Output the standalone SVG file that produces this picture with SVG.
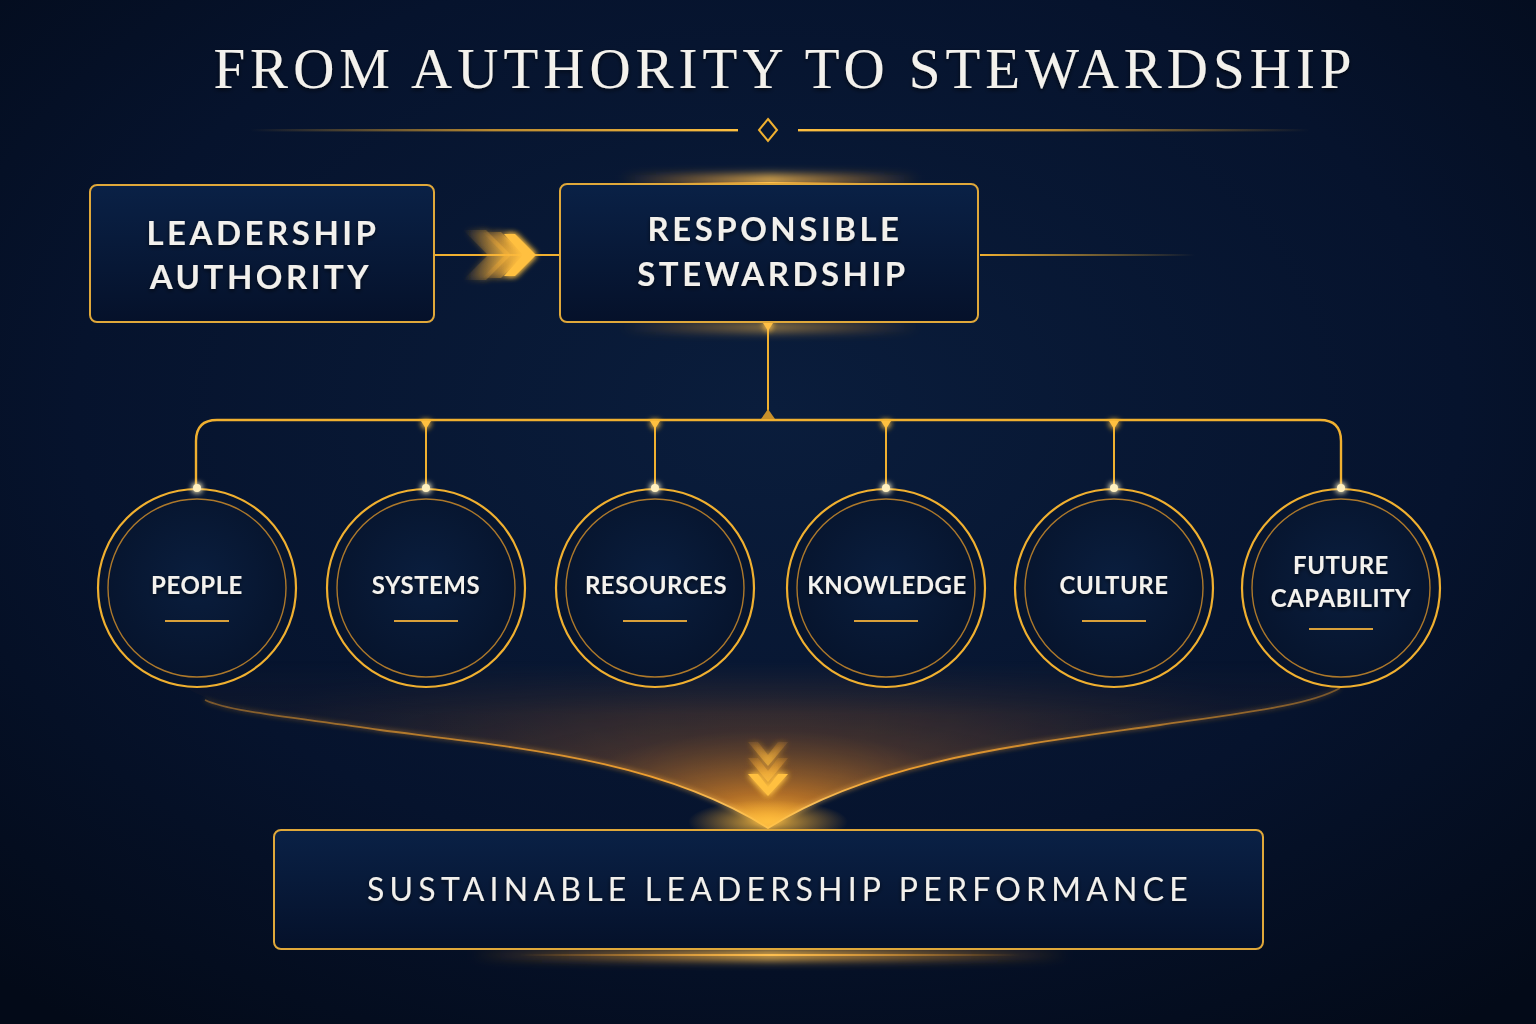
<svg xmlns="http://www.w3.org/2000/svg" width="1536" height="1024" viewBox="0 0 1536 1024">
<defs>
<radialGradient id="bg" cx="0.5" cy="0.4" r="0.75">
<stop offset="0" stop-color="#0a1d3c"/>
<stop offset="0.6" stop-color="#06132d"/>
<stop offset="1" stop-color="#030a18"/>
</radialGradient>
<linearGradient id="boxFill" x1="0" y1="0" x2="0" y2="1">
<stop offset="0" stop-color="#0a2146"/>
<stop offset="1" stop-color="#05112a"/>
</linearGradient>
<radialGradient id="circFill" cx="0.5" cy="0.45" r="0.55">
<stop offset="0" stop-color="#0a1e3e"/>
<stop offset="1" stop-color="#06132b"/>
</radialGradient>
<linearGradient id="divL" x1="0" y1="0" x2="1" y2="0">
<stop offset="0" stop-color="#e8a830" stop-opacity="0"/>
<stop offset="0.5" stop-color="#e8a830" stop-opacity="0.8"/>
<stop offset="1" stop-color="#ffc040"/>
</linearGradient>
<linearGradient id="divR" x1="0" y1="0" x2="1" y2="0">
<stop offset="0" stop-color="#ffc040"/>
<stop offset="0.5" stop-color="#e8a830" stop-opacity="0.8"/>
<stop offset="1" stop-color="#e8a830" stop-opacity="0"/>
</linearGradient>
<linearGradient id="fadeR" x1="0" y1="0" x2="1" y2="0">
<stop offset="0" stop-color="#f0b030"/>
<stop offset="1" stop-color="#f0b030" stop-opacity="0"/>
</linearGradient>
<linearGradient id="glowLine" x1="0" y1="0" x2="1" y2="0">
<stop offset="0" stop-color="#ff9a20" stop-opacity="0"/>
<stop offset="0.5" stop-color="#ffc050"/>
<stop offset="1" stop-color="#ff9a20" stop-opacity="0"/>
</linearGradient>
<radialGradient id="funnelGlow" cx="768" cy="820" r="560" gradientUnits="userSpaceOnUse" gradientTransform="translate(768 820) scale(1 0.4) translate(-768 -820)">
<stop offset="0" stop-color="#ffb535" stop-opacity="1"/>
<stop offset="0.12" stop-color="#f09025" stop-opacity="0.8"/>
<stop offset="0.4" stop-color="#a8622a" stop-opacity="0.42"/>
<stop offset="1" stop-color="#5a3a2a" stop-opacity="0.15"/>
</radialGradient>
<linearGradient id="fadeUp" x1="0" y1="0" x2="0" y2="1">
<stop offset="0" stop-color="#fff" stop-opacity="0"/>
<stop offset="0.3" stop-color="#fff" stop-opacity="0.75"/>
<stop offset="1" stop-color="#fff" stop-opacity="1"/>
</linearGradient>
<mask id="funnelMask" maskUnits="userSpaceOnUse" x="0" y="640" width="1536" height="200">
<rect x="0" y="660" width="1536" height="180" fill="url(#fadeUp)"/>
</mask>
<linearGradient id="curveStroke" x1="200" y1="0" x2="1340" y2="0" gradientUnits="userSpaceOnUse">
<stop offset="0" stop-color="#d08a2a" stop-opacity="0.5"/>
<stop offset="0.4" stop-color="#f0a030"/>
<stop offset="0.5" stop-color="#ffd070"/>
<stop offset="0.6" stop-color="#f0a030"/>
<stop offset="1" stop-color="#d08a2a" stop-opacity="0.5"/>
</linearGradient>
<radialGradient id="spot" cx="0.5" cy="0.5" r="0.5">
<stop offset="0" stop-color="#ffc040" stop-opacity="0.9"/>
<stop offset="1" stop-color="#ffb030" stop-opacity="0"/>
</radialGradient>
<linearGradient id="chevFade" x1="0" y1="0" x2="1" y2="0">
<stop offset="0" stop-color="#f0a030" stop-opacity="0"/>
<stop offset="1" stop-color="#ffc040"/>
</linearGradient>
<linearGradient id="chevDown" x1="0" y1="0" x2="0" y2="1">
<stop offset="0" stop-color="#f0a030" stop-opacity="0.2"/>
<stop offset="1" stop-color="#ffc040"/>
</linearGradient>
<filter id="glow" x="-100%" y="-100%" width="300%" height="300%">
<feGaussianBlur stdDeviation="3" result="b"/>
<feMerge><feMergeNode in="b"/><feMergeNode in="b"/><feMergeNode in="SourceGraphic"/></feMerge>
</filter>
<filter id="lineGlow" x="-10%" y="-50%" width="120%" height="200%">
<feGaussianBlur stdDeviation="2.5" result="b"/>
<feMerge><feMergeNode in="b"/><feMergeNode in="SourceGraphic"/></feMerge>
</filter>
<filter id="soft" x="-20%" y="-200%" width="140%" height="500%">
<feGaussianBlur stdDeviation="5"/>
</filter>
<filter id="tshadow" x="-10%" y="-30%" width="120%" height="160%">
<feDropShadow dx="0" dy="2" stdDeviation="2" flood-color="#000" flood-opacity="0.6"/>
</filter>
</defs>
<style>
.title{font-family:"Liberation Serif","DejaVu Serif",serif;font-size:57px;fill:#f3f1ec;letter-spacing:5px}
.box{fill:url(#boxFill);stroke:#e0a83a;stroke-width:2}
.boxt{font-family:Lato,"Noto Sans",sans-serif;font-weight:700;font-size:33px;fill:#f2f0ec;letter-spacing:3.5px;text-anchor:middle}
.outer{fill:url(#circFill);stroke:#f0b030;stroke-width:2.2}
.inner{fill:none;stroke:#c98a2a;stroke-width:1.4;opacity:0.85}
.lbl{font-family:Lato,"Noto Sans",sans-serif;font-weight:700;font-size:24px;fill:#f4f2ee;letter-spacing:0.5px;text-anchor:middle}
.ul{stroke:#d9a03a;stroke-width:2}
.wire{fill:none;stroke:#f0b030;stroke-width:2.4}
.dot{fill:#fff0c0}
.tri{fill:#ffc040}
.bott{font-family:Lato,"Noto Sans",sans-serif;font-weight:400;font-size:32px;fill:#f2f0ec;letter-spacing:5.2px;text-anchor:middle}
</style>
<rect width="1536" height="1024" fill="url(#bg)"/>

<g id="title">
<text class="title" x="785" y="88" text-anchor="middle" filter="url(#tshadow)">FROM AUTHORITY TO STEWARDSHIP</text>
<rect x="250" y="129" width="488" height="2.4" fill="url(#divL)"/>
<rect x="798" y="129" width="512" height="2.4" fill="url(#divR)"/>
<path d="M768 119 L777 130 L768 141 L759 130 Z" fill="none" stroke="#f0b030" stroke-width="2"/>
</g>

<g id="funnel">
<path mask="url(#funnelMask)" d="M190 690 C 230 712, 300 718, 380 730 C 520 748, 660 760, 768 828 C 876 760, 1020 745, 1160 725 C 1250 712, 1310 705, 1350 680 L 1350 660 L 190 660 Z" fill="url(#funnelGlow)"/>
<path d="M205 700 C 230 712, 300 718, 380 730 C 520 748, 660 760, 768 828 C 876 760, 1020 745, 1160 725 C 1250 712, 1310 705, 1340 688" fill="none" stroke="url(#curveStroke)" stroke-width="1.8" filter="url(#lineGlow)"/>
<ellipse cx="768" cy="822" rx="80" ry="22" fill="url(#spot)"/>
</g>

<g id="connectors">
<line x1="434" y1="255" x2="560" y2="255" stroke="#f0b030" stroke-width="2"/>
<g filter="url(#glow)">
<path d="M463 230 L486 230 L511 255 L486 280 L463 280 L488 255 Z" fill="url(#chevFade)" opacity="0.45"/>
<path d="M482 232 L501 232 L524 255 L501 278 L482 278 L505 255 Z" fill="url(#chevFade)" opacity="0.75"/>
<path d="M504 234 L515 234 L536 255 L515 276 L504 276 L523 255 Z" fill="#ffc040"/>
</g>
<rect x="980" y="254" width="215" height="2" fill="url(#fadeR)"/>
<line x1="768" y1="323" x2="768" y2="420" stroke="#f0b030" stroke-width="2"/>
<path d="M763 323 L773 323 L768 331 Z" class="tri" filter="url(#glow)"/>
<path d="M196 488 L196 441 Q196 420 217 420 L1320 420 Q1341 420 1341 441 L1341 488" class="wire"/>
<path d="M761 419 L775 419 L768 409 Z" fill="#c8902a"/>
<g stroke="#f0b030" stroke-width="2">
<line x1="426" y1="420" x2="426" y2="488"/>
<line x1="655" y1="420" x2="655" y2="488"/>
<line x1="886" y1="420" x2="886" y2="488"/>
<line x1="1114" y1="420" x2="1114" y2="488"/>
</g>
<g class="tri" filter="url(#glow)">
<path d="M421 421 L431 421 L426 429 Z"/>
<path d="M650 421 L660 421 L655 429 Z"/>
<path d="M881 421 L891 421 L886 429 Z"/>
<path d="M1109 421 L1119 421 L1114 429 Z"/>
</g>
<rect x="620" y="175" width="300" height="10" fill="url(#glowLine)" filter="url(#soft)"/>
<rect x="680" y="182" width="180" height="2" fill="url(#glowLine)"/>
<rect x="620" y="322" width="300" height="10" fill="url(#glowLine)" filter="url(#soft)" opacity="0.6"/>
<rect x="470" y="950" width="600" height="10" fill="url(#glowLine)" filter="url(#soft)"/>
<rect x="520" y="954" width="500" height="2" fill="url(#glowLine)"/>
<g filter="url(#glow)">
<path d="M748 742 L758 742 L768 755 L778 742 L788 742 L768 766 Z" fill="url(#chevDown)" opacity="0.6"/>
<path d="M748 758 L758 758 L768 771 L778 758 L788 758 L768 782 Z" fill="url(#chevDown)" opacity="0.8"/>
<path d="M748 774 L758 774 L768 787 L778 774 L788 774 L768 796 Z" fill="#ffc040"/>
</g>
</g>

<g id="node-leadership-authority">
<rect class="box" x="90" y="185" width="344" height="137" rx="7"/>
<text class="boxt" x="263" y="245" filter="url(#tshadow)">LEADERSHIP</text>
<text class="boxt" x="261" y="289" filter="url(#tshadow)">AUTHORITY</text>
</g>

<g id="node-responsible-stewardship">
<rect class="box" x="560" y="184" width="418" height="138" rx="7"/>
<text class="boxt" x="775" y="241" filter="url(#tshadow)">RESPONSIBLE</text>
<text class="boxt" x="773" y="286" filter="url(#tshadow)">STEWARDSHIP</text>
</g>

<g id="node-people">
<circle class="outer" cx="197" cy="588" r="99"/>
<circle class="inner" cx="197" cy="588" r="89"/>
<circle class="dot" cx="197" cy="488" r="4" filter="url(#glow)"/>
<text class="lbl" x="197" y="594" filter="url(#tshadow)">PEOPLE</text>
<line class="ul" x1="165" y1="621" x2="229" y2="621"/>
</g>

<g id="node-systems">
<circle class="outer" cx="426" cy="588" r="99"/>
<circle class="inner" cx="426" cy="588" r="89"/>
<circle class="dot" cx="426" cy="488" r="4" filter="url(#glow)"/>
<text class="lbl" x="426" y="594" filter="url(#tshadow)">SYSTEMS</text>
<line class="ul" x1="394" y1="621" x2="458" y2="621"/>
</g>

<g id="node-resources">
<circle class="outer" cx="655" cy="588" r="99"/>
<circle class="inner" cx="655" cy="588" r="89"/>
<circle class="dot" cx="655" cy="488" r="4" filter="url(#glow)"/>
<text class="lbl" x="656" y="594" filter="url(#tshadow)">RESOURCES</text>
<line class="ul" x1="623" y1="621" x2="687" y2="621"/>
</g>

<g id="node-knowledge">
<circle class="outer" cx="886" cy="588" r="99"/>
<circle class="inner" cx="886" cy="588" r="89"/>
<circle class="dot" cx="886" cy="488" r="4" filter="url(#glow)"/>
<text class="lbl" x="887" y="594" filter="url(#tshadow)">KNOWLEDGE</text>
<line class="ul" x1="854" y1="621" x2="918" y2="621"/>
</g>

<g id="node-culture">
<circle class="outer" cx="1114" cy="588" r="99"/>
<circle class="inner" cx="1114" cy="588" r="89"/>
<circle class="dot" cx="1114" cy="488" r="4" filter="url(#glow)"/>
<text class="lbl" x="1114" y="594" filter="url(#tshadow)">CULTURE</text>
<line class="ul" x1="1082" y1="621" x2="1146" y2="621"/>
</g>

<g id="node-future-capability">
<circle class="outer" cx="1341" cy="588" r="99"/>
<circle class="inner" cx="1341" cy="588" r="89"/>
<circle class="dot" cx="1341" cy="488" r="4" filter="url(#glow)"/>
<text class="lbl" x="1341" y="574" filter="url(#tshadow)">FUTURE</text>
<text class="lbl" x="1341" y="607" filter="url(#tshadow)">CAPABILITY</text>
<line class="ul" x1="1309" y1="629" x2="1373" y2="629"/>
</g>

<g id="node-sustainable-performance">
<rect class="box" x="274" y="830" width="989" height="119" rx="7"/>
<text class="bott" x="780" y="901" filter="url(#tshadow)">SUSTAINABLE LEADERSHIP PERFORMANCE</text>
</g>
</svg>
